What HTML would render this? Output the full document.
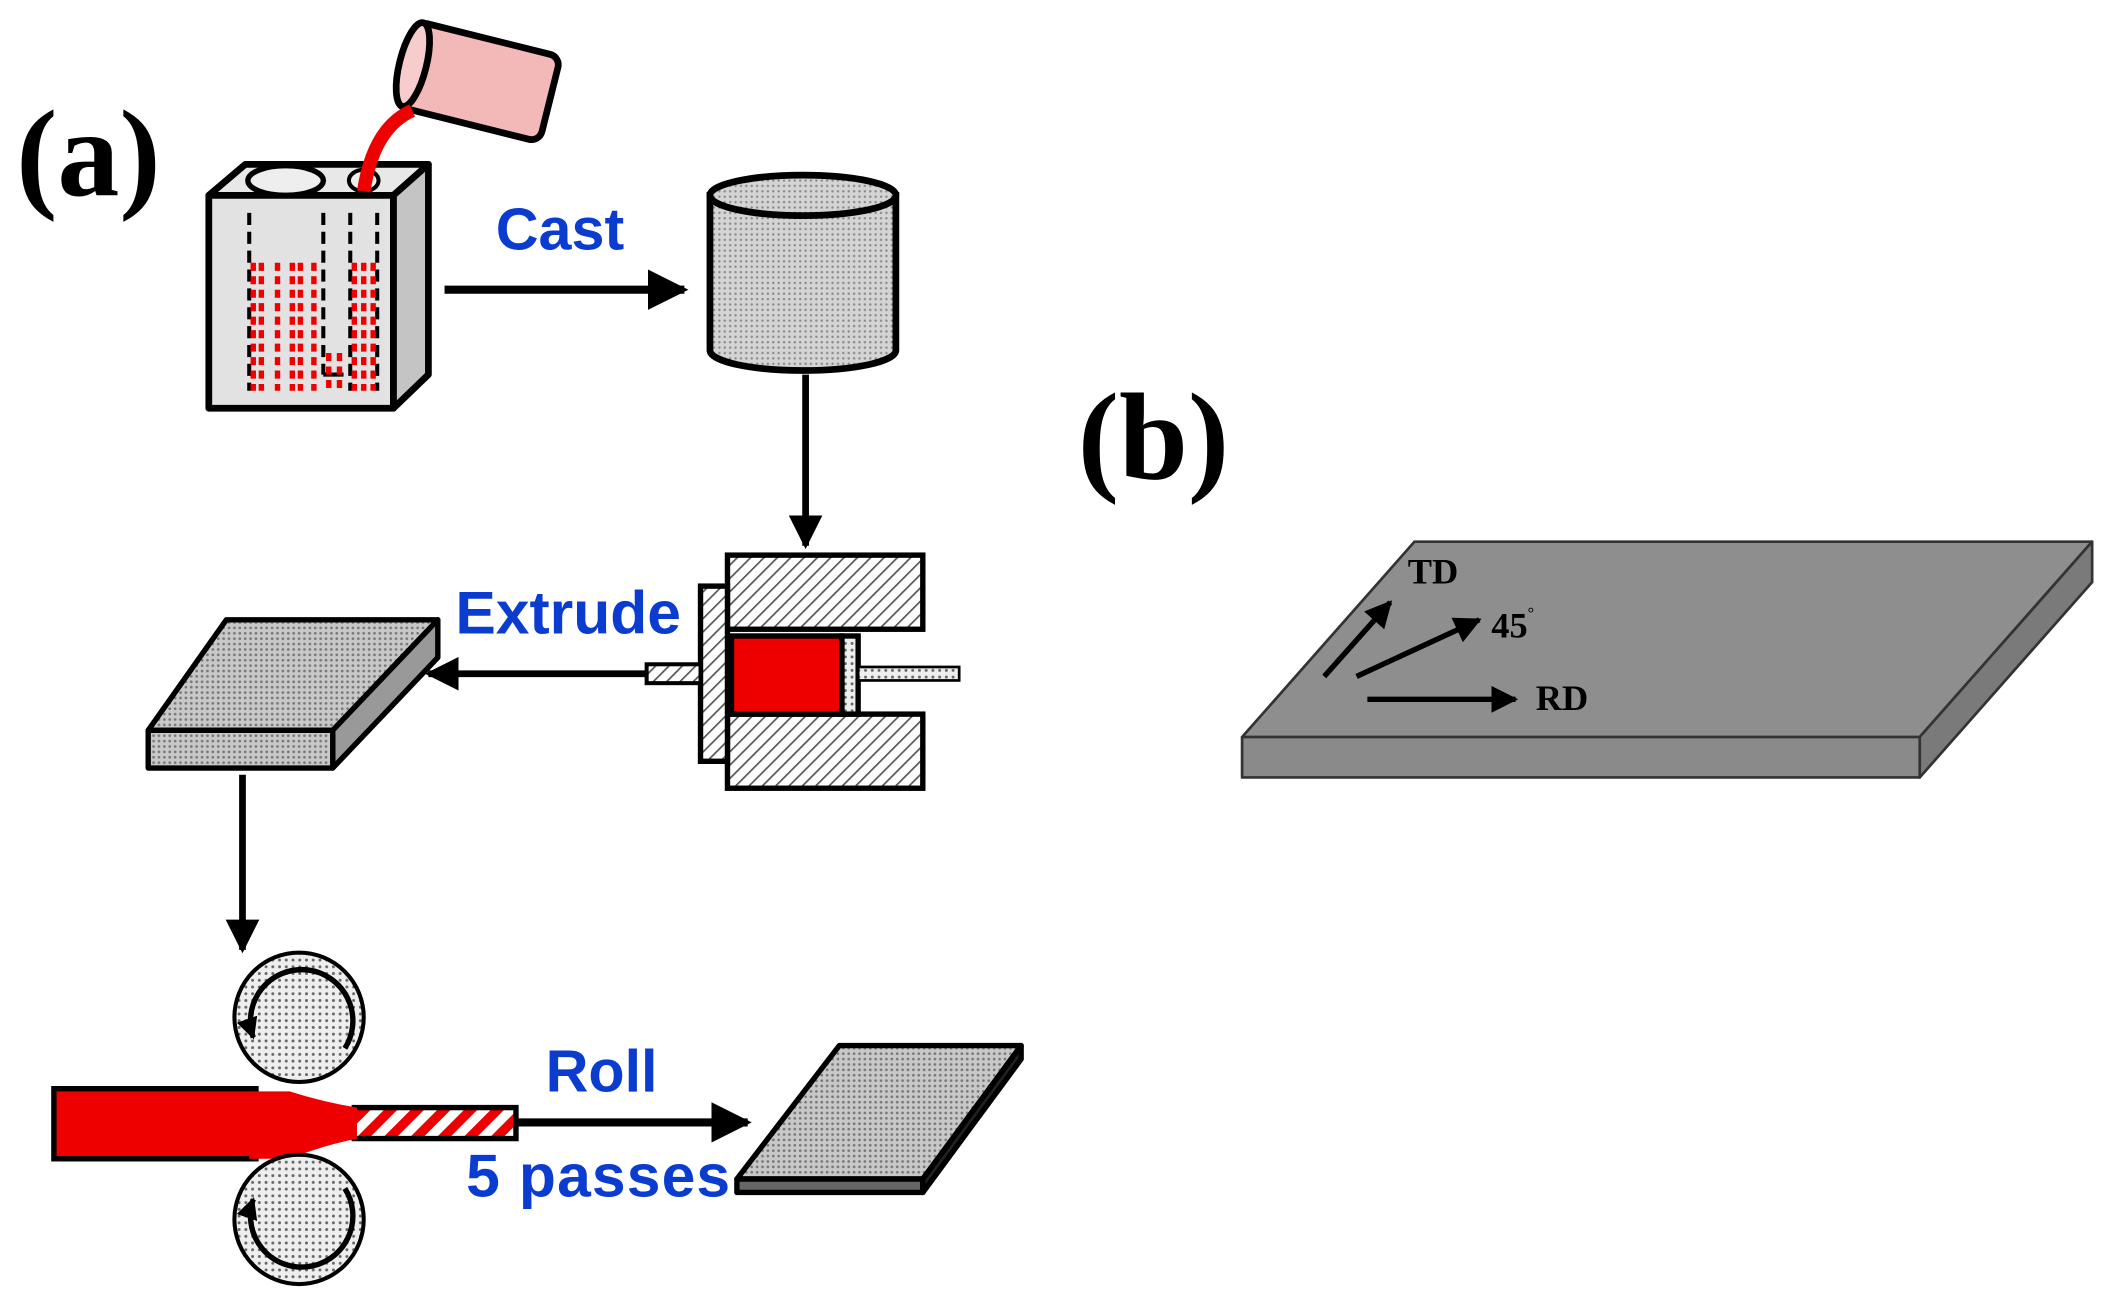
<!DOCTYPE html>
<html><head><style>html,body{margin:0;padding:0;background:#fff;}svg{display:block}</style></head>
<body>
<svg width="2111" height="1307" viewBox="0 0 1567 970" preserveAspectRatio="none" xmlns="http://www.w3.org/2000/svg">
<defs>
<pattern id="hat" width="7" height="7" patternUnits="userSpaceOnUse" patternTransform="rotate(45)"><rect width="7" height="7" fill="#fff"/><line x1="0" y1="0" x2="0" y2="7" stroke="#555" stroke-width="2.5"/></pattern>
<pattern id="dot" width="5" height="5" patternUnits="userSpaceOnUse"><rect width="5" height="5" fill="#eee"/><circle cx="2.5" cy="2.5" r="1.1" fill="#666"/></pattern>
<pattern id="dot2" width="4" height="4" patternUnits="userSpaceOnUse"><rect width="4" height="4" fill="#c8c8c8"/><circle cx="2" cy="2" r="1" fill="#777"/></pattern>
<pattern id="dot3" width="4" height="4" patternUnits="userSpaceOnUse"><rect width="4" height="4" fill="#d4d4d4"/><circle cx="2" cy="2" r="0.9" fill="#888"/></pattern>
<pattern id="rhat" width="14" height="14" patternUnits="userSpaceOnUse" patternTransform="rotate(45)"><rect width="14" height="14" fill="#fff"/><rect width="7" height="14" fill="#e00"/></pattern>
<marker id="ar" viewBox="0 0 10 10" refX="9" refY="5" markerWidth="5" markerHeight="5" orient="auto" markerUnits="strokeWidth"><path d="M0,0 L10,5 L0,10 z" fill="#000"/></marker>
<marker id="ar2" viewBox="0 0 10 10" refX="9" refY="5" markerWidth="4" markerHeight="4" orient="auto" markerUnits="strokeWidth"><path d="M0,0 L10,5 L0,10 z" fill="#000"/></marker>
</defs>
<text x="12" y="145" font-family="Liberation Serif, serif" font-weight="bold" font-size="92">(a)</text>
<text x="800" y="355" font-family="Liberation Serif, serif" font-weight="bold" font-size="92">(b)</text>

<!-- beaker box -->
<g stroke="#000" stroke-width="5" stroke-linejoin="round">
<path d="M155,145 L182,122 L318,122 L292,145 Z" fill="#e8e8e8"/>
<path d="M292,145 L318,122 L318,278 L292,303 Z" fill="#c4c4c4"/>
<rect x="155" y="145" width="137" height="158" fill="#e2e2e2"/>
</g>
<ellipse cx="212" cy="134" rx="28" ry="11" fill="#eee" stroke="#000" stroke-width="4"/>
<ellipse cx="270" cy="134" rx="11" ry="8" fill="#eee" stroke="#000" stroke-width="3"/>
<g stroke="#000" stroke-width="3" stroke-dasharray="9,5">
<line x1="185" y1="158" x2="185" y2="290"/><line x1="240" y1="158" x2="240" y2="278"/><line x1="260" y1="158" x2="260" y2="290"/><line x1="280" y1="158" x2="280" y2="290"/>
</g>
<line x1="240" y1="278" x2="255" y2="278" stroke="#000" stroke-width="3"/>
<g stroke="#e00" stroke-width="4" stroke-dasharray="6,4">
<line x1="188" y1="195" x2="188" y2="290"/><line x1="194" y1="195" x2="194" y2="290"/>
<line x1="217" y1="195" x2="217" y2="290"/><line x1="223" y1="195" x2="223" y2="290"/>
<line x1="244" y1="262" x2="244" y2="290"/><line x1="252" y1="262" x2="252" y2="290"/>
<line x1="263" y1="195" x2="263" y2="290"/><line x1="270" y1="195" x2="270" y2="290"/><line x1="277" y1="195" x2="277" y2="290"/>
<line x1="206" y1="195" x2="206" y2="290"/><line x1="233" y1="195" x2="233" y2="290"/>
</g>
<!-- cup -->
<g transform="rotate(14 355 60)">
<rect x="300" y="28" width="110" height="65" rx="8" fill="#f3b9b9" stroke="#000" stroke-width="5"/>
<ellipse cx="305" cy="60" rx="10" ry="32" fill="#f6cccc" stroke="#000" stroke-width="5"/>
</g>
<!-- pour -->
<path d="M306,82 Q277,95 270,142" fill="none" stroke="#e00" stroke-width="10"/>

<text x="368" y="185" font-family="Liberation Sans, sans-serif" font-weight="bold" font-size="44" fill="#0a3cd0">Cast</text>
<line x1="330" y1="215" x2="508" y2="215" stroke="#000" stroke-width="6" marker-end="url(#ar)"/>

<!-- cylinder -->
<path d="M527,145 L527,260 A69,15 0 0 0 665,260 L665,145 Z" fill="url(#dot3)" stroke="#000" stroke-width="5"/>
<ellipse cx="596" cy="145" rx="69" ry="15" fill="url(#dot3)" stroke="#000" stroke-width="5"/>
<line x1="598" y1="278" x2="598" y2="405" stroke="#000" stroke-width="5" marker-end="url(#ar)"/>

<!-- extrusion die -->
<g stroke="#000" stroke-width="4">
<rect x="540" y="412" width="145" height="55" fill="url(#hat)"/>
<rect x="540" y="530" width="145" height="55" fill="url(#hat)"/>
<rect x="520" y="435" width="20" height="130" fill="url(#hat)"/>
<rect x="543" y="472" width="82" height="58" fill="#e00"/>
<rect x="625" y="472" width="12" height="58" fill="url(#dot)"/>
<rect x="637" y="495" width="75" height="10" fill="url(#dot)" stroke-width="2"/>
<rect x="480" y="493" width="40" height="14" fill="url(#hat)" stroke-width="3"/>
</g>
<text x="338" y="470" font-family="Liberation Sans, sans-serif" font-weight="bold" font-size="45" fill="#0a3cd0">Extrude</text>
<line x1="480" y1="500" x2="318" y2="500" stroke="#000" stroke-width="5" marker-end="url(#ar)"/>

<!-- slab -->
<g stroke="#000" stroke-width="4" stroke-linejoin="round">
<path d="M110,542 L168,460 L325,460 L247,542 Z" fill="url(#dot2)"/>
<path d="M247,542 L325,460 L325,488 L247,570 Z" fill="#999"/>
<rect x="110" y="542" width="137" height="28" fill="url(#dot2)"/>
</g>
<line x1="180" y1="575" x2="180" y2="705" stroke="#000" stroke-width="5" marker-end="url(#ar)"/>

<!-- rolling -->
<rect x="40" y="808" width="150" height="52" fill="#e00" stroke="#000" stroke-width="4"/>
<rect x="263" y="822" width="120" height="23" fill="url(#rhat)" stroke="#000" stroke-width="4"/>
<path d="M185,810 L215,810 Q240,818 265,822 L265,845 Q240,850 215,860 L185,860 Z" fill="#e00"/>
<circle cx="222" cy="755" r="48" fill="url(#dot)" stroke="#000" stroke-width="3"/>
<circle cx="222" cy="905" r="48" fill="url(#dot)" stroke="#000" stroke-width="3"/>
<path d="M256,778 A38,38 0 1 0 188,770" fill="none" stroke="#000" stroke-width="4" marker-end="url(#ar2)"/>
<path d="M256,882 A38,38 0 1 1 188,890" fill="none" stroke="#000" stroke-width="4" marker-end="url(#ar2)"/>
<line x1="383" y1="833" x2="555" y2="833" stroke="#000" stroke-width="6" marker-end="url(#ar)"/>
<text x="405" y="810" font-family="Liberation Sans, sans-serif" font-weight="bold" font-size="44" fill="#0a3cd0">Roll</text>
<text x="346" y="888" font-family="Liberation Sans, sans-serif" font-weight="bold" font-size="45" fill="#0a3cd0" textLength="196">5 passes</text>
<g stroke="#000" stroke-width="4" stroke-linejoin="round">
<path d="M547,875 L623,776 L758,776 L685,875 Z" fill="url(#dot2)"/>
<path d="M547,875 L685,875 L685,885 L547,885 Z" fill="#666"/>
<path d="M685,875 L758,776 L758,786 L685,885 Z" fill="#222"/>
</g>

<!-- plate b -->
<g stroke="#333" stroke-width="2" stroke-linejoin="round">
<path d="M922,547 L1050,402 L1553,402 L1425,547 Z" fill="#8e8e8e"/>
<path d="M1425,547 L1553,402 L1553,432 L1425,577 Z" fill="#7a7a7a"/>
<rect x="922" y="547" width="503" height="30" fill="#8a8a8a"/>
</g>
<g stroke="#000" stroke-width="4">
<line x1="983" y1="502" x2="1032" y2="447" marker-end="url(#ar)"/>
<line x1="1007" y1="502" x2="1098" y2="460" marker-end="url(#ar)"/>
<line x1="1015" y1="519" x2="1125" y2="519" marker-end="url(#ar)"/>
</g>
<g font-family="Liberation Serif, serif" font-weight="bold" font-size="27" fill="#000">
<text x="1045" y="433">TD</text>
<text x="1107" y="473">45<tspan font-size="12" dy="-14">°</tspan></text>
<text x="1140" y="527">RD</text>
</g>
</svg>
</body></html>
